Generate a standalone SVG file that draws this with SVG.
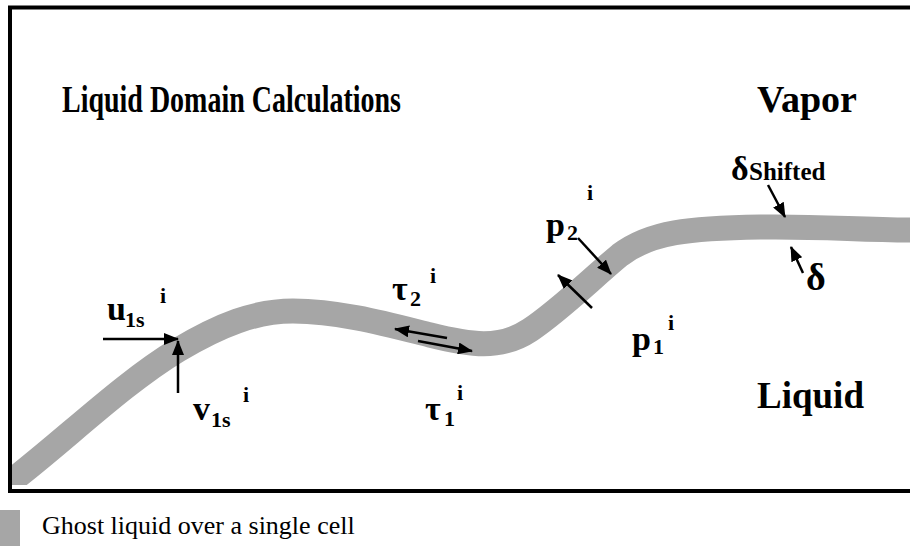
<svg xmlns="http://www.w3.org/2000/svg" width="910" height="546" viewBox="0 0 910 546">
<style>
.b{font-family:"Liberation Serif","Times New Roman",serif;font-weight:bold;fill:#000}
.r{font-family:"Liberation Serif","Times New Roman",serif;fill:#000}
.m{font-size:34px}
.s{font-size:22px}
.arr{stroke:#000;stroke-width:2.5;fill:none;marker-end:url(#ah)}
.band{fill:none;stroke:#a6a6a6;stroke-width:25}
</style>
<defs>
<marker id="ah" viewBox="0 0 15 12" refX="14" refY="6" markerWidth="15" markerHeight="12" markerUnits="userSpaceOnUse" orient="auto">
<path d="M0,0 L15,6 L0,12 z" fill="#000"/>
</marker>
<clipPath id="inner"><rect x="12" y="10" width="900" height="475"/></clipPath>
</defs>
<g id="band" clip-path="url(#inner)">
<path class="band" d="M0,490 C60,445 120,385 178,350 C220,325 255,311 293,311 C340,311 390,325 430,335 C470,345 500,350 530,330 C560,310 590,280 620,255 C650,232 690,228 760,227 C820,226 860,230 915,230"/>
</g>
<g id="frame"><rect x="10" y="7.5" width="920" height="483.5" fill="none" stroke="#000" stroke-width="4"/></g>
<g id="connectors">
<line class="arr" x1="103" y1="339" x2="178" y2="339"/>
<line class="arr" x1="178" y1="393" x2="178" y2="341"/>
<line class="arr" x1="447" y1="338" x2="395" y2="329"/>
<line class="arr" x1="418" y1="341" x2="472" y2="351"/>
<line class="arr" x1="578" y1="238" x2="611" y2="274"/>
<line class="arr" x1="592" y1="308" x2="558" y2="275"/>
<line class="arr" x1="768" y1="185" x2="785" y2="217"/>
<line class="arr" x1="803" y1="273" x2="791" y2="247"/>
</g>
<g id="title"><text class="b" x="62" y="112" font-size="38" textLength="339" lengthAdjust="spacingAndGlyphs">Liquid Domain Calculations</text></g>
<g id="vapor"><text class="b" x="757" y="112" font-size="38">Vapor</text></g>
<g id="liquid"><text class="b" x="757" y="408" font-size="37">Liquid</text></g>
<g id="u1s"><text class="b m" x="107" y="320">u</text><text class="b s" x="125" y="327">1s</text><text class="b s" x="160" y="303">i</text></g>
<g id="v1s"><text class="b m" x="193" y="420">v</text><text class="b s" x="211" y="427">1s</text><text class="b s" x="243" y="402">i</text></g>
<g id="tau2"><text class="b m" x="392" y="300">τ</text><text class="b s" x="410" y="306">2</text><text class="b s" x="430" y="283">i</text></g>
<g id="tau1"><text class="b m" x="425" y="420">τ</text><text class="b s" x="444" y="426">1</text><text class="b s" x="457" y="400">i</text></g>
<g id="p2"><text class="b m" x="546" y="236">p</text><text class="b s" x="567" y="240">2</text><text class="b s" x="587" y="200">i</text></g>
<g id="p1"><text class="b m" x="632" y="350">p</text><text class="b s" x="653" y="354">1</text><text class="b s" x="668" y="330">i</text></g>
<g id="dshift"><text class="b m" x="731" y="180">δ</text><text class="b" x="749" y="180" font-size="25">Shifted</text></g>
<g id="delta"><text class="b" x="806" y="290" font-size="38">δ</text></g>
<g id="legend">
<rect x="0" y="510" width="20" height="36" fill="#a6a6a6"/>
<text class="r" x="42" y="534" font-size="26">Ghost liquid over a single cell</text>
</g>
</svg>
